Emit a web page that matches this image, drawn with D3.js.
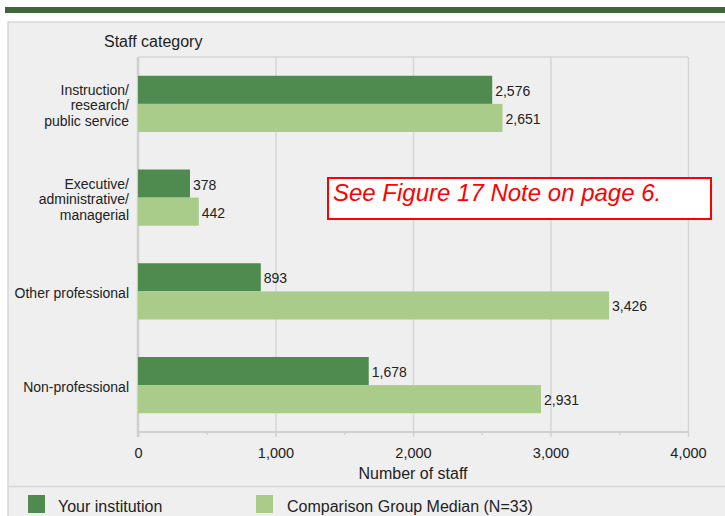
<!DOCTYPE html>
<html lang="en">
<head>
<meta charset="UTF-8">
<title>Staff category</title>
<style>
  body { margin: 0; background: #fff; }
  svg { display: block; font-family: "Liberation Sans", Arial, sans-serif; }
</style>
</head>
<body>
<svg width="725" height="516"></svg>
<script src="https://d3js.org/d3.v7.min.js"></script>
<script>
var categories = [
    ["Instruction/", "research/", "public service"],
    ["Executive/", "administrative/", "managerial"],
    ["Other professional"],
    ["Non-professional"]
];
var yourInstitution = [2576, 378, 893, 1678];
var comparisonMedian = [2651, 442, 3426, 2931];
var seriesNames = ["Your institution", "Comparison Group Median (N=33)"];
var xTicks = [0, 1000, 2000, 3000, 4000];

var darkGreen = "#4f8a4f", lightGreen = "#aacc8a";

var svg = d3.select("svg");

// top rule + grey panel
svg.append("rect").attr("x", 5).attr("y", 7).attr("width", 720).attr("height", 6).attr("fill", "#3e6639");
svg.append("rect").attr("x", 8).attr("y", 22).attr("width", 720).attr("height", 500)
    .attr("fill", "#efefef").attr("stroke", "#d6d6d6").attr("stroke-width", 1.5);
svg.append("line").attr("x1", 8).attr("x2", 725).attr("y1", 486.5).attr("y2", 486.5)
    .attr("stroke", "#d6d6d6").attr("stroke-width", 1.5);

var margin = {left: 138, top: 57, right: 688, bottom: 432};

var x = d3.scaleLinear().domain([0, 4000]).range([margin.left, margin.right]);
var y = d3.scaleBand().domain(d3.range(categories.length))
    .range([margin.top, margin.bottom]).paddingInner(0.4).paddingOuter(0.2);

// gridlines and frame
svg.append("g").selectAll("line").data(xTicks.slice(1)).enter().append("line")
    .attr("x1", function(d) { return x(d) + 0.5; }).attr("x2", function(d) { return x(d) + 0.5; })
    .attr("y1", margin.top).attr("y2", margin.bottom)
    .attr("stroke", "#d6d6d6").attr("stroke-width", 1.5);
svg.append("line").attr("x1", margin.left).attr("x2", margin.right)
    .attr("y1", margin.top).attr("y2", margin.top)
    .attr("stroke", "#d6d6d6").attr("stroke-width", 1.5);

// x axis
var xAxis = svg.append("g").attr("transform", "translate(0," + margin.bottom + ")")
    .call(d3.axisBottom(x).tickValues(d3.range(0, 4001, 500)).tickSize(4)
        .tickFormat(function(d) { return d % 1000 === 0 ? d3.format(",")(d) : ""; }));
xAxis.select(".domain").attr("stroke", "#d0d0d0").attr("stroke-width", 2).attr("d", "M" + margin.left + ",0H" + margin.right);
xAxis.selectAll(".tick line").attr("stroke", "#d0d0d0").attr("stroke-width", 1.5)
    .attr("y2", function(d) { return d % 1000 === 0 ? 5 : 3; });
xAxis.selectAll(".tick text").attr("y", 16).attr("font-size", 14.5).attr("fill", "#222")
    .attr("font-family", "Liberation Sans, Arial, sans-serif");

svg.append("line").attr("x1", margin.left).attr("x2", margin.left)
    .attr("y1", margin.top).attr("y2", margin.bottom + 5)
    .attr("stroke", "#cfcfcf").attr("stroke-width", 2.5);

svg.append("text").attr("x", x(2000)).attr("y", 479).attr("text-anchor", "middle")
    .attr("font-size", 16).attr("fill", "#222").text("Number of staff");
svg.append("text").attr("x", 104).attr("y", 47)
    .attr("font-size", 16).attr("fill", "#222").text("Staff category");

var half = y.bandwidth() / 2;

var groups = svg.append("g").selectAll("g").data(categories).enter().append("g");

groups.append("rect")
    .attr("x", x(0)).attr("y", function(d, i) { return y(i); })
    .attr("width", function(d, i) { return x(yourInstitution[i]) - x(0); })
    .attr("height", half).attr("fill", darkGreen);
groups.append("rect")
    .attr("x", x(0)).attr("y", function(d, i) { return y(i) + half; })
    .attr("width", function(d, i) { return x(comparisonMedian[i]) - x(0); })
    .attr("height", half).attr("fill", lightGreen);

groups.append("text")
    .attr("x", function(d, i) { return x(yourInstitution[i]) + 3; })
    .attr("y", function(d, i) { return y(i) + half / 2 + 6; })
    .attr("font-size", 14).attr("fill", "#222")
    .text(function(d, i) { return d3.format(",")(yourInstitution[i]); });
groups.append("text")
    .attr("x", function(d, i) { return x(comparisonMedian[i]) + 3; })
    .attr("y", function(d, i) { return y(i) + half * 1.5 + 6; })
    .attr("font-size", 14).attr("fill", "#222")
    .text(function(d, i) { return d3.format(",")(comparisonMedian[i]); });

groups.append("text")
    .attr("text-anchor", "end").attr("font-size", 14).attr("fill", "#222")
    .each(function(d, i) {
        var t = d3.select(this);
        var cy = y(i) + y.bandwidth() / 2;
        var lh = 15.5;
        d.forEach(function(line, k) {
            t.append("tspan").attr("x", 129)
                .attr("y", cy + 6.5 + (k - (d.length - 1) / 2) * lh)
                .text(line);
        });
    });

// note box
svg.append("rect").attr("x", 328).attr("y", 178).attr("width", 383).attr("height", 41)
    .attr("fill", "#fff").attr("stroke", "#ff0000").attr("stroke-width", 2);
svg.append("text").attr("x", 333).attr("y", 201).attr("font-size", 24)
    .attr("font-style", "italic").attr("fill", "#ff0000").text("See Figure 17 Note on page 6.");

// legend
var legend = svg.append("g").selectAll("g").data(seriesNames).enter().append("g")
    .attr("transform", function(d, i) { return "translate(" + [28, 256][i] + ",495)"; });
legend.append("rect").attr("width", 17).attr("height", 18)
    .attr("fill", function(d, i) { return i === 0 ? darkGreen : lightGreen; });
legend.append("text").attr("x", function(d, i) { return i === 0 ? 30 : 31; }).attr("y", 17)
    .attr("font-size", 16).attr("fill", "#222").text(function(d) { return d; });
</script>
</body>
</html>
